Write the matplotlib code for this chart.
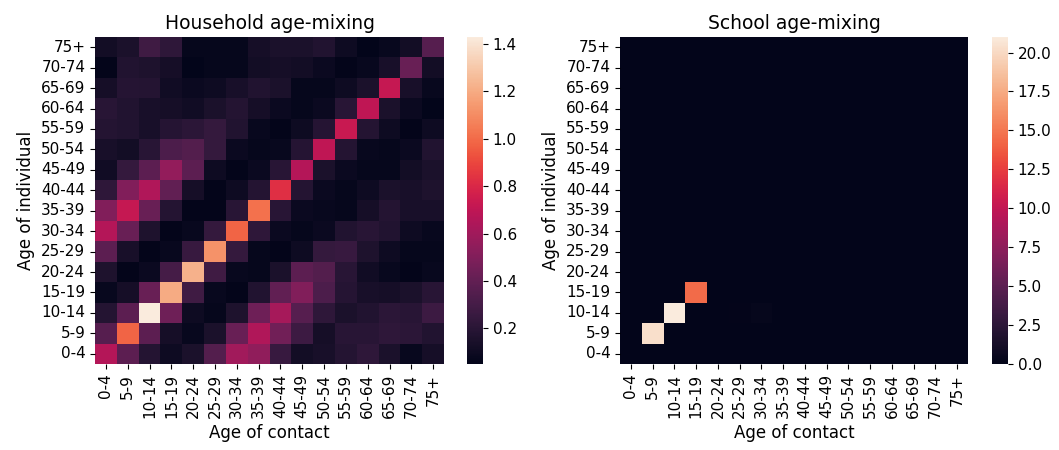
import numpy as np
import matplotlib
matplotlib.use("Agg")
import matplotlib.pyplot as plt
import seaborn as sns

age_groups = ["0-4", "5-9", "10-14", "15-19", "20-24", "25-29", "30-34", "35-39",
              "40-44", "45-49", "50-54", "55-59", "60-64", "65-69", "70-74", "75+"]

# rows: age of individual (0-4 first), columns: age of contact
household = [
    [0.66, 0.38, 0.18, 0.10, 0.15, 0.35, 0.60, 0.55, 0.25, 0.12, 0.14, 0.18, 0.22, 0.15, 0.08, 0.13],
    [0.36, 0.98, 0.38, 0.13, 0.08, 0.15, 0.42, 0.65, 0.45, 0.27, 0.13, 0.20, 0.20, 0.22, 0.21, 0.17],
    [0.18, 0.38, 1.43, 0.44, 0.10, 0.07, 0.16, 0.44, 0.62, 0.36, 0.22, 0.15, 0.17, 0.21, 0.20, 0.27],
    [0.08, 0.13, 0.42, 1.20, 0.28, 0.08, 0.06, 0.17, 0.40, 0.50, 0.33, 0.19, 0.14, 0.13, 0.15, 0.20],
    [0.16, 0.06, 0.09, 0.30, 1.22, 0.28, 0.08, 0.07, 0.15, 0.38, 0.35, 0.20, 0.11, 0.08, 0.06, 0.08],
    [0.38, 0.14, 0.06, 0.08, 0.25, 1.12, 0.24, 0.07, 0.06, 0.10, 0.24, 0.25, 0.16, 0.10, 0.07, 0.07],
    [0.66, 0.42, 0.16, 0.06, 0.08, 0.24, 0.98, 0.22, 0.09, 0.07, 0.09, 0.17, 0.20, 0.17, 0.10, 0.08],
    [0.50, 0.72, 0.42, 0.18, 0.06, 0.06, 0.20, 1.02, 0.20, 0.09, 0.08, 0.07, 0.13, 0.18, 0.14, 0.14],
    [0.22, 0.50, 0.65, 0.40, 0.13, 0.06, 0.10, 0.18, 0.83, 0.18, 0.09, 0.07, 0.10, 0.15, 0.14, 0.16],
    [0.11, 0.24, 0.38, 0.56, 0.38, 0.10, 0.06, 0.09, 0.20, 0.66, 0.15, 0.09, 0.07, 0.07, 0.12, 0.15],
    [0.14, 0.12, 0.20, 0.33, 0.35, 0.24, 0.09, 0.07, 0.08, 0.19, 0.70, 0.18, 0.08, 0.07, 0.09, 0.17],
    [0.18, 0.17, 0.14, 0.19, 0.21, 0.24, 0.17, 0.08, 0.06, 0.10, 0.19, 0.73, 0.18, 0.10, 0.06, 0.10],
    [0.20, 0.17, 0.14, 0.13, 0.11, 0.15, 0.18, 0.13, 0.09, 0.07, 0.09, 0.20, 0.70, 0.15, 0.09, 0.05],
    [0.13, 0.19, 0.18, 0.11, 0.09, 0.10, 0.14, 0.17, 0.15, 0.07, 0.07, 0.10, 0.15, 0.72, 0.14, 0.08],
    [0.06, 0.17, 0.16, 0.13, 0.05, 0.07, 0.07, 0.12, 0.13, 0.12, 0.09, 0.06, 0.08, 0.14, 0.42, 0.12],
    [0.12, 0.15, 0.28, 0.22, 0.07, 0.07, 0.07, 0.13, 0.15, 0.15, 0.17, 0.10, 0.05, 0.08, 0.12, 0.36],
]

# school contacts: only the school-age diagonal is non-zero
school_diag_groups = ["5-9", "10-14", "15-19"]
school_diag_values = [20.3, 21.0, 14.5]
school_extra = [("10-14", "30-34", 0.3), ("10-14", "25-29", 0.1)]

school = np.zeros((len(age_groups), len(age_groups)))
for grp, val in zip(school_diag_groups, school_diag_values):
    i = age_groups.index(grp)
    school[i, i] = val
for row, col, val in school_extra:
    school[age_groups.index(row), age_groups.index(col)] = val


def draw_heatmap(fig, ax_rect, cbar_rect, data, title):
    ax = fig.add_axes(ax_rect)
    cax = fig.add_axes(cbar_rect)
    sns.heatmap(np.array(data), ax=ax, cbar_ax=cax, cmap="rocket",
                xticklabels=age_groups, yticklabels=age_groups)
    ax.invert_yaxis()
    ax.set_title(title, fontsize=13.5)
    ax.set_xlabel("Age of contact", fontsize=12)
    ax.set_ylabel("Age of individual", fontsize=12)
    ax.set_xticklabels(age_groups, rotation=90, fontsize=11)
    ax.set_yticklabels(age_groups, rotation=0, fontsize=11)
    cax.tick_params(labelsize=11)
    return ax


fig = plt.figure(figsize=(10.59, 4.5), dpi=100)
draw_heatmap(fig, [0.0897, 0.1911, 0.3296, 0.7267], [0.441, 0.1911, 0.0151, 0.7267],
             household, "Household age-mixing")
draw_heatmap(fig, [0.5855, 0.1911, 0.3286, 0.7267], [0.9367, 0.1911, 0.0151, 0.7267],
             school, "School age-mixing")
fig.savefig("out.png", dpi=100)
